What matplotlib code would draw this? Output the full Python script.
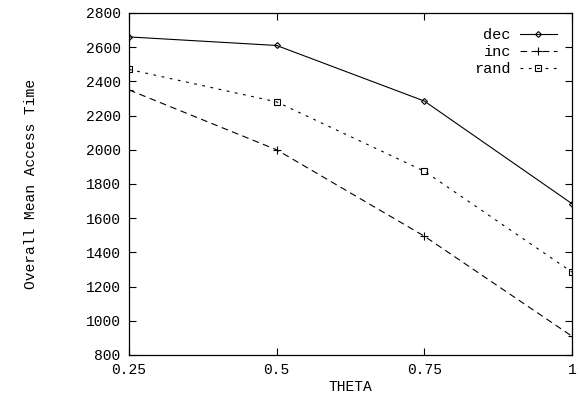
import numpy as np
import matplotlib
matplotlib.use("Agg")
import matplotlib.pyplot as plt

plt.rcParams['font.family'] = ['Liberation Mono', 'DejaVu Sans Mono']
plt.rcParams['font.size'] = 10.5

# data
theta = [0.25, 0.5, 0.75, 1.0]
dec = [2660, 2610, 2285, 1685]
inc = [2350, 2000, 1495, 910]
rand = [2470, 2280, 1875, 1285]

fig = plt.figure(figsize=(5.83, 4.07), dpi=100)
ax = fig.add_axes([0.2213, 0.1278, 0.7597, 0.8403])

ax.plot(theta, dec, color='k', lw=0.8, marker='D', ms=3, mfc='none', mew=0.8, label='dec')
ax.plot(theta, inc, color='k', lw=0.8, ls=(0, (6, 4)), marker='+', ms=5.5, mew=0.8, label='inc')
ax.plot(theta, rand, color='k', lw=0.8, ls=(0, (2.5, 5)), marker='s', ms=4, mfc='none', mew=0.8, label='rand')

ax.set_xlim(0.25, 1.0)
ax.set_ylim(800, 2800)
ax.set_xticks(theta)
ax.set_xticklabels(['0.25', '0.5', '0.75', '1'])
ax.set_yticks(np.arange(800, 2801, 200))
ax.tick_params(direction='in', top=True, right=True, length=5, width=0.8, pad=6)
for s in ax.spines.values():
    s.set_linewidth(0.9)

ax.set_xlabel('THETA', labelpad=2)
ax.set_ylabel('Overall Mean Access Time', labelpad=34)

ax.legend(loc='upper right', frameon=False, markerfirst=False, handlelength=2.4,
          handletextpad=0.6, labelspacing=0.2, borderaxespad=0.6, fontsize=11)

fig.savefig('out.png', dpi=100)
